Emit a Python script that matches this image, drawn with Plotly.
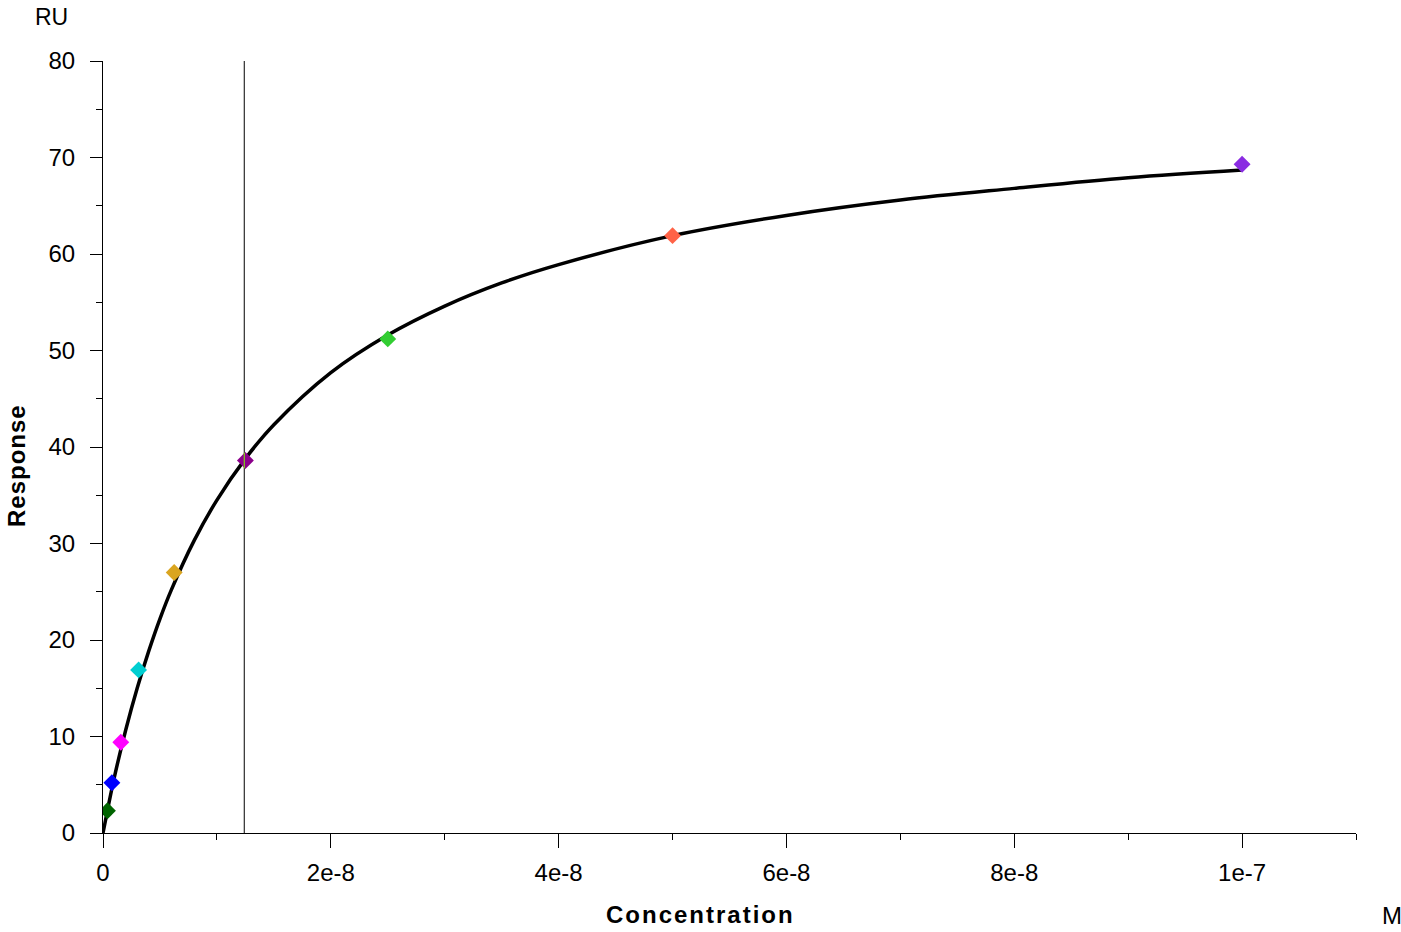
import plotly.graph_objects as go

# Measured points (concentration in M, response in RU)
concentrations = [3.9e-10, 7.8125e-10, 1.5625e-9, 3.125e-9, 6.25e-9, 1.25e-8, 2.5e-8, 5e-8, 1e-7]
responses = [2.3, 5.2, 9.4, 16.9, 27.0, 38.6, 51.2, 61.9, 69.3]
point_colors = ["#006400", "#0000FF", "#FF00FF", "#00CED1", "#DAA520",
                "#8B008B", "#32CD32", "#FF6347", "#8A2BE2"]

# Fit curve
fit_conc = [0, 0.5e-9, 1e-9, 2e-9, 3e-9, 4e-9, 5e-9, 6e-9, 8e-9, 1e-8, 1.25e-8,
            1.5e-8, 2e-8, 2.5e-8, 3e-8, 3.5e-8, 4e-8, 5e-8, 6e-8, 7e-8, 8e-8, 9e-8, 1e-7]
fit_resp = [0, 3.0, 5.8, 10.7, 15.0, 18.8, 22.2, 25.2, 30.3, 34.5, 38.8,
            42.3, 47.7, 51.6, 54.6, 57.0, 58.9, 61.9, 64.0, 65.6, 66.8, 67.9, 68.7]

KD = 1.24e-8

x_tickvals = [0, 2e-8, 4e-8, 6e-8, 8e-8, 1e-7]
x_ticktext = ["0", "2e-8", "4e-8", "6e-8", "8e-8", "1e-7"]
y_tickvals = [0, 10, 20, 30, 40, 50, 60, 70, 80]
y_ticktext = ["0", "10", "20", "30", "40", "50", "60", "70", "80"]

FONT = "Liberation Sans, Arial, sans-serif"

fig = go.Figure()
fig.add_trace(go.Scatter(x=fit_conc, y=fit_resp, mode="lines", line=dict(color="black", width=3.5, shape="spline"),
                         showlegend=False, hoverinfo="skip"))
fig.add_trace(go.Scatter(x=concentrations, y=responses, mode="markers",
                         marker=dict(symbol="diamond", size=13, color=point_colors, line=dict(width=0)),
                         showlegend=False))

fig.add_shape(type="line", x0=KD, x1=KD, y0=0, y1=80, xref="x", yref="y",
              line=dict(color="black", width=1), layer="below")
kd_idx = 5
fig.add_shape(type="line", x0=KD, x1=KD, y0=responses[kd_idx] - 0.8, y1=responses[kd_idx] + 0.8,
              xref="x", yref="y", line=dict(color="#7CFC00", width=1), layer="above")

fig.update_xaxes(range=[0, 1.1e-7], tickmode="array", tickvals=x_tickvals, ticktext=x_ticktext,
                 showline=True, linecolor="black", linewidth=1, showgrid=False, zeroline=False,
                 ticks="outside", ticklen=14, tickcolor="black", tickwidth=1,
                 tickfont=dict(family=FONT, size=24, color="black"), ticklabelstandoff=4,
                 minor=dict(tickmode="linear", tick0=0, dtick=1e-8, ticks="outside", ticklen=6,
                            tickcolor="black", tickwidth=1, showgrid=False))
fig.update_yaxes(range=[0, 80], tickmode="array", tickvals=y_tickvals, ticktext=y_ticktext,
                 showline=True, linecolor="black", linewidth=1, showgrid=False, zeroline=False,
                 ticks="outside", ticklen=12, tickcolor="black", tickwidth=1,
                 tickfont=dict(family=FONT, size=24, color="black"), ticklabelstandoff=10,
                 minor=dict(tickmode="linear", tick0=0, dtick=5, ticks="outside", ticklen=6,
                            tickcolor="black", tickwidth=1, showgrid=False))

fig.add_annotation(text="RU", x=-0.0415, y=1.0570, xref="paper", yref="paper", showarrow=False,
                   xanchor="center", yanchor="middle", font=dict(family=FONT, size=23, color="black"))
fig.add_annotation(text="M", x=1.0287, y=-0.1075, xref="paper", yref="paper", showarrow=False,
                   xanchor="center", yanchor="middle", font=dict(family=FONT, size=24, color="black"))
fig.add_annotation(text='<b><span style="letter-spacing:2px">Concentration</span></b>',
                   x=0.4765, y=-0.1062, xref="paper", yref="paper", showarrow=False,
                   xanchor="center", yanchor="middle", font=dict(family=FONT, size=24, color="black"))
fig.add_annotation(text='<b><span style="letter-spacing:1px">Response</span></b>',
                   x=-0.0686, y=0.4754, xref="paper", yref="paper", showarrow=False, textangle=-90,
                   xanchor="center", yanchor="middle", font=dict(family=FONT, size=24, color="black"))

fig.update_layout(width=1401, height=932, margin=dict(l=103, r=45, t=61, b=99),
                  plot_bgcolor="white", paper_bgcolor="white", showlegend=False)

# remove the default page margin so the figure fills the window exactly
fig.write_html("out.html", config={"displayModeBar": False},
               post_script="document.body.style.margin='0';document.body.style.overflow='hidden';")
